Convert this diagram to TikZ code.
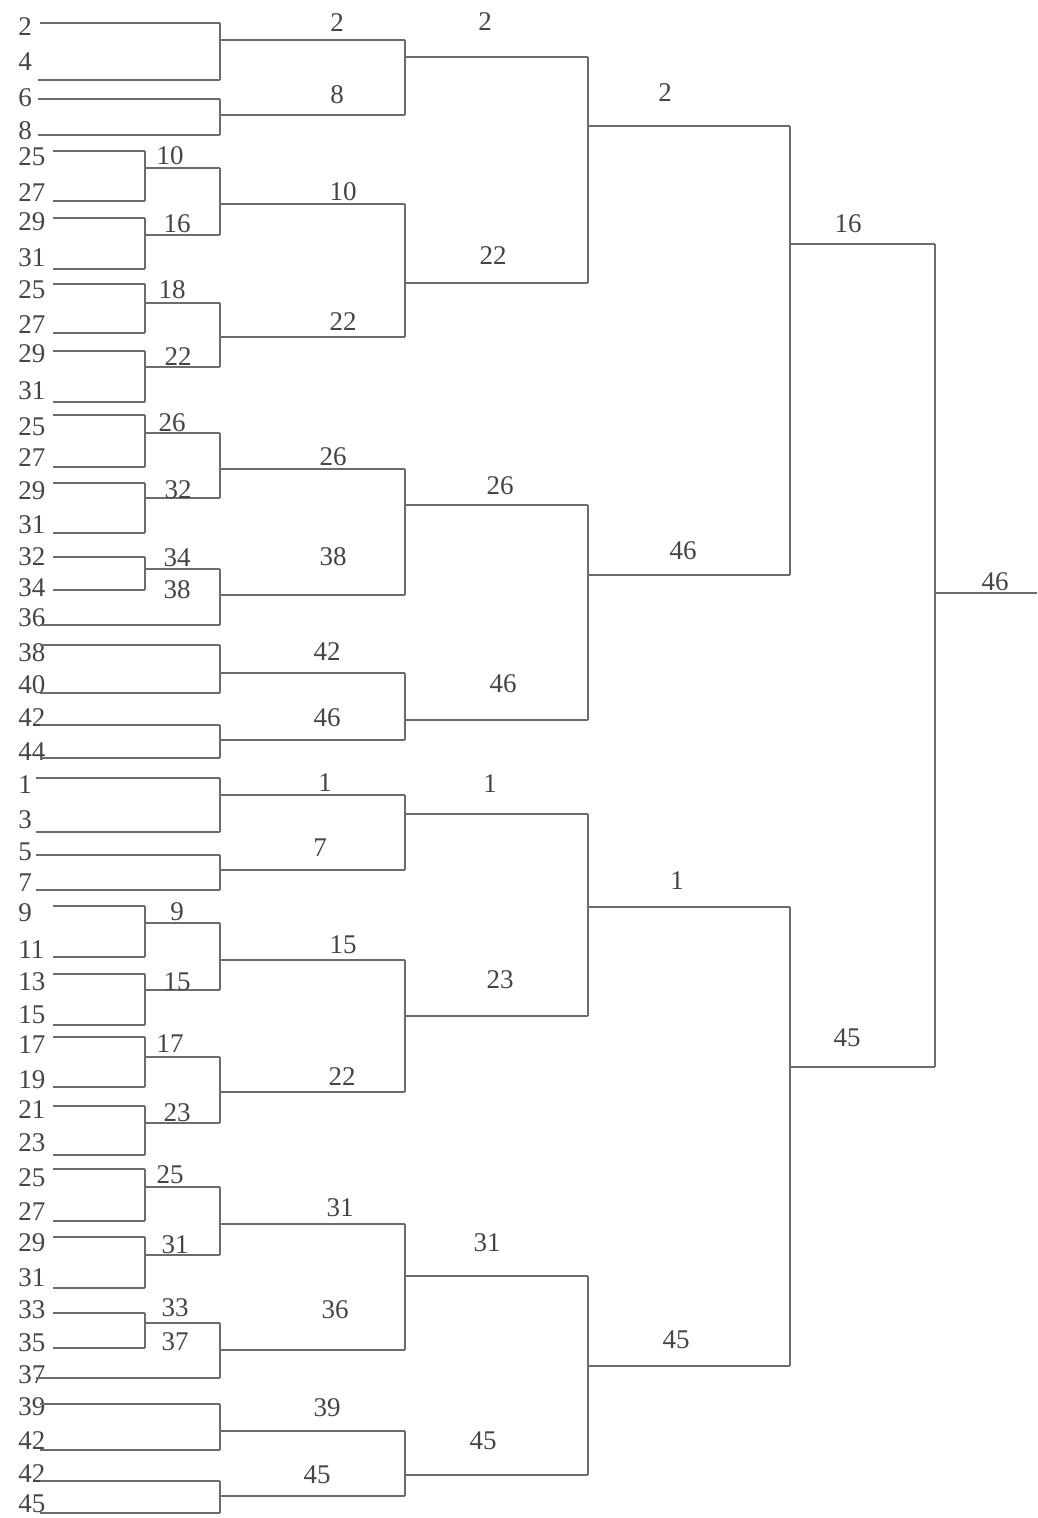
\documentclass[tikz,border=0pt]{standalone}
\usepackage{fontspec}
\setmainfont{Liberation Serif}
\definecolor{wirec}{HTML}{6C6C6C}
\definecolor{txtc}{HTML}{454545}
% bracket: name, top input, bottom input, output y, output end x, label, label x, label y
\newcommand\brk[8]{%
  \draw[wire] (#2) -- (#3);
  \coordinate (#1s) at (#2 |- 0,#4);
  \coordinate (#1) at (#5,#4);
  \draw[wire] (#1s) -- (#1);
  \node[win] (#1t) at (#7,#8) {#6};
}
\begin{document}
\begin{tikzpicture}[x=0.5pt,y=-0.5pt,
  wire/.style={draw=wirec,line width=1pt},
  leaf/.style={anchor=west,inner sep=0pt,text=txtc,font=\fontsize{13.5}{14}\selectfont},
  win/.style={inner sep=0pt,text=txtc,font=\fontsize{13.5}{14}\selectfont}]
\useasboundingbox[fill=white] (0,0) rectangle (1037,1518);

% leaves: index/text/label y/wire y/wire start x/wire end x
\foreach \i/\t/\ly/\wy/\sx/\ex in {
 0/2/27/23/40/220, 1/4/62/80/38/220, 2/6/98/99/38/220, 3/8/131/135/38/220,
 4/25/157/151/53/145, 5/27/193/201/53/145, 6/29/222/218/53/145, 7/31/258/269/53/145,
 8/25/290/284/53/145, 9/27/325/333/53/145, 10/29/354/351/53/145, 11/31/391/402/53/145,
 12/25/427/415/53/145, 13/27/458/467/53/145, 14/29/491/483/53/145, 15/31/525/533/53/145,
 16/32/557/557/53/145, 17/34/588/590/53/145, 18/36/618/625/40/220,
 19/38/653/645/40/220, 20/40/685/693/40/220, 21/42/718/725/40/220, 22/44/752/758/40/220,
 23/1/785/778/36/220, 24/3/820/832/36/220, 25/5/852/855/36/220, 26/7/883/890/36/220,
 27/9/913/906/53/145, 28/11/950/957/53/145, 29/13/982/974/53/145, 30/15/1015/1025/53/145,
 31/17/1045/1037/53/145, 32/19/1080/1087/53/145, 33/21/1110/1106/53/145, 34/23/1143/1155/53/145,
 35/25/1178/1169/53/145, 36/27/1212/1221/53/145, 37/29/1243/1237/53/145, 38/31/1278/1288/53/145,
 39/33/1310/1313/53/145, 40/35/1343/1348/53/145, 41/37/1375/1378/36/220,
 42/39/1407/1404/40/220, 43/42/1441/1450/40/220, 44/42/1474/1481/40/220, 45/45/1504/1513/40/220}
{
  \node[leaf] (L\i) at (18,\ly) {\t};
  \coordinate (S\i) at (\sx,\wy);
  \coordinate (E\i) at (\ex,\wy);
  \draw[wire] (S\i) -- (E\i);
}

% level 1 (x = 145 -> 220)
\brk{a4}{E4}{E5}{168}{220}{10}{170}{156}
\brk{a6}{E6}{E7}{235}{220}{16}{177}{224}
\brk{a8}{E8}{E9}{303}{220}{18}{172}{290}
\brk{a10}{E10}{E11}{367}{220}{22}{178}{357}
\brk{a12}{E12}{E13}{433}{220}{26}{172}{423}
\brk{a14}{E14}{E15}{498}{220}{32}{178}{490}
\brk{a16}{E16}{E17}{569}{220}{34}{177}{558}
\node[win] (x38) at (177,590) {38};
\brk{a27}{E27}{E28}{923}{220}{9}{177}{912}
\brk{a29}{E29}{E30}{990}{220}{15}{177}{982}
\brk{a31}{E31}{E32}{1057}{220}{17}{170}{1044}
\brk{a33}{E33}{E34}{1123}{220}{23}{177}{1113}
\brk{a35}{E35}{E36}{1187}{220}{25}{170}{1175}
\brk{a37}{E37}{E38}{1255}{220}{31}{175}{1245}
\brk{a39}{E39}{E40}{1323}{220}{33}{175}{1308}
\node[win] (x37) at (175,1342) {37};

% level 2 (x = 220 -> 405)
\brk{b1}{E0}{E1}{40}{405}{2}{337}{23}
\brk{b2}{E2}{E3}{115}{405}{8}{337}{95}
\brk{b3}{a4}{a6}{204}{405}{10}{343}{192}
\brk{b4}{a8}{a10}{337}{405}{22}{343}{322}
\brk{b5}{a12}{a14}{469}{405}{26}{333}{457}
\brk{b6}{a16}{E18}{595}{405}{38}{333}{557}
\brk{b7}{E19}{E20}{673}{405}{42}{327}{652}
\brk{b8}{E21}{E22}{740}{405}{46}{327}{718}
\brk{b9}{E23}{E24}{795}{405}{1}{325}{783}
\brk{b10}{E25}{E26}{870}{405}{7}{320}{848}
\brk{b11}{a27}{a29}{960}{405}{15}{343}{945}
\brk{b12}{a31}{a33}{1092}{405}{22}{342}{1077}
\brk{b13}{a35}{a37}{1224}{405}{31}{340}{1208}
\brk{b14}{a39}{E41}{1350}{405}{36}{335}{1310}
\brk{b15}{E42}{E43}{1431}{405}{39}{327}{1408}
\brk{b16}{E44}{E45}{1496}{405}{45}{317}{1475}

% level 3 (x = 405 -> 588)
\brk{c1}{b1}{b2}{57}{588}{2}{485}{22}
\brk{c2}{b3}{b4}{283}{588}{22}{493}{256}
\brk{c3}{b5}{b6}{505}{588}{26}{500}{486}
\brk{c4}{b7}{b8}{720}{588}{46}{503}{684}
\brk{c5}{b9}{b10}{814}{588}{1}{490}{784}
\brk{c6}{b11}{b12}{1016}{588}{23}{500}{980}
\brk{c7}{b13}{b14}{1276}{588}{31}{487}{1243}
\brk{c8}{b15}{b16}{1475}{588}{45}{483}{1441}

% level 4 (x = 588 -> 790)
\brk{d1}{c1}{c2}{126}{790}{2}{665}{93}
\brk{d2}{c3}{c4}{575}{790}{46}{683}{551}
\brk{d3}{c5}{c6}{907}{790}{1}{677}{881}
\brk{d4}{c7}{c8}{1366}{790}{45}{676}{1340}

% level 5 (x = 790 -> 935)
\brk{e1}{d1}{d2}{244}{935}{16}{848}{224}
\brk{e2}{d3}{d4}{1067}{935}{45}{847}{1038}

% final (x = 935 -> right edge)
\brk{f1}{e1}{e2}{593}{1037}{46}{995}{582}
\end{tikzpicture}
\end{document}
